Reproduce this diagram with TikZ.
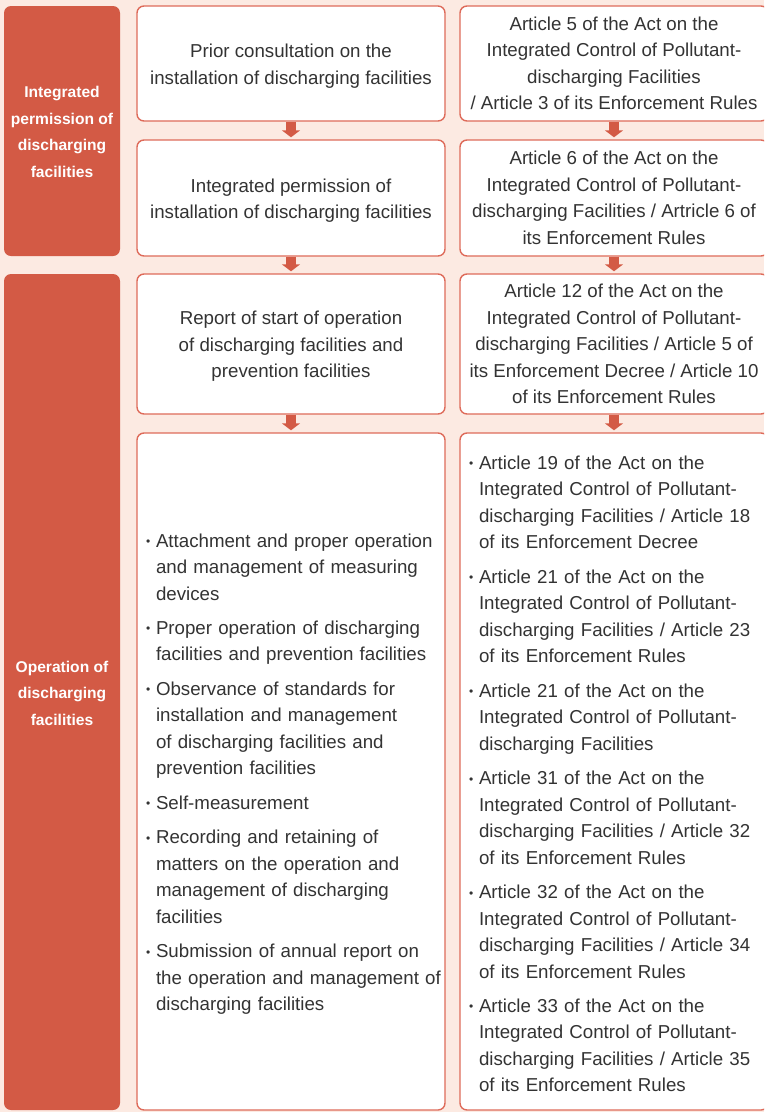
\documentclass[tikz,border=0pt]{standalone}
\usepackage{fontspec}
\setmainfont{Liberation Sans}
\usetikzlibrary{arrows.meta}
\definecolor{bgpink}{HTML}{FCEAE2}
\definecolor{boxred}{HTML}{D35A45}
\definecolor{edgered}{HTML}{DE6B5A}
\definecolor{txtgray}{HTML}{333333}
\newcommand{\bul}{\hspace*{8pt}\makebox[10pt][l]{\raisebox{1.5pt}{\fontsize{12}{12}\selectfont •}}}
\newcommand{\ind}{\hspace*{18pt}}
\newcommand{\gap}{\\[7.9pt]}
\tikzset{
  leftbox/.style={rectangle, rounded corners=7pt, fill=boxred, text=white,
    font=\bfseries\fontsize{15.6}{26.5}\selectfont, align=center, inner sep=0pt,
    minimum width=116pt},
  whitebox/.style={rectangle, rounded corners=7pt, draw=edgered, line width=1.4pt,
    fill=white, text=txtgray, font=\fontsize{18.7}{26.5}\selectfont, align=center,
    inner sep=0pt, minimum width=308pt},
  listbox/.style={whitebox, text width=306pt, align=left},
  flow/.style={draw=boxred, line width=10pt, -{Triangle[width=18pt,length=7pt]},
    shorten >=2pt}
}
\begin{document}
\begin{tikzpicture}[x=1pt,y=-1pt]
\useasboundingbox (0,0) rectangle (764,1112);
\fill[bgpink] (0,0) rectangle (764,1112);
\clip (0,0) rectangle (764,1112);

% left column
\node[leftbox, minimum height=250pt] (l1) at (62,131)
  {\rule{0pt}{13.5pt}Integrated\\permission of\\discharging\\facilities};
\node[leftbox, minimum height=836pt] (l2) at (62,692)
  {\rule{0pt}{13.5pt}Operation of\\discharging\\facilities};

% middle column
\node[whitebox, minimum height=115pt] (m1) at (291,63.5)
  {\strut Prior consultation on the\\installation of discharging facilities};
\node[whitebox, minimum height=116pt] (m2) at (291,198)
  {\strut Integrated permission of\\installation of discharging facilities};
\node[whitebox, minimum height=140pt] (m3) at (291,344)
  {\strut Report of start of operation\\of discharging facilities and\\prevention facilities};
\node[listbox, minimum height=677pt] (m4) at (291,771.5)
  {\strut\bul Attachment and proper operation\\
   \ind and management of measuring\\
   \ind devices\gap
   \bul Proper operation of discharging\\
   \ind facilities and prevention facilities\gap
   \bul Observance of standards for\\
   \ind installation and management\\
   \ind of discharging facilities and\\
   \ind prevention facilities\gap
   \bul Self-measurement\gap
   \bul Recording and retaining of\\
   \ind matters on the operation and\\
   \ind management of discharging\\
   \ind facilities\gap
   \bul Submission of annual report on\\
   \ind the operation and management of\\
   \ind discharging facilities};

% right column
\node[whitebox, minimum height=115pt] (r1) at (614,63.5)
  {Article 5 of the Act on the\\Integrated Control of Pollutant-\\discharging Facilities\\/ Article 3 of its Enforcement Rules};
\node[whitebox, minimum height=116pt] (r2) at (614,198)
  {Article 6 of the Act on the\\Integrated Control of Pollutant-\\discharging Facilities / Artricle 6 of\\its Enforcement Rules};
\node[whitebox, minimum height=140pt] (r3) at (614,344)
  {Article 12 of the Act on the\\Integrated Control of Pollutant-\\discharging Facilities / Article 5 of\\its Enforcement Decree / Article 10\\of its Enforcement Rules};
\node[listbox, minimum height=677pt] (r4) at (614,771.5)
  {\strut\bul Article 19 of the Act on the\\
   \ind Integrated Control of Pollutant-\\
   \ind discharging Facilities / Article 18\\
   \ind of its Enforcement Decree\gap
   \bul Article 21 of the Act on the\\
   \ind Integrated Control of Pollutant-\\
   \ind discharging Facilities / Article 23\\
   \ind of its Enforcement Rules\gap
   \bul Article 21 of the Act on the\\
   \ind Integrated Control of Pollutant-\\
   \ind discharging Facilities\gap
   \bul Article 31 of the Act on the\\
   \ind Integrated Control of Pollutant-\\
   \ind discharging Facilities / Article 32\\
   \ind of its Enforcement Rules\gap
   \bul Article 32 of the Act on the\\
   \ind Integrated Control of Pollutant-\\
   \ind discharging Facilities / Article 34\\
   \ind of its Enforcement Rules\gap
   \bul Article 33 of the Act on the\\
   \ind Integrated Control of Pollutant-\\
   \ind discharging Facilities / Article 35\\
   \ind of its Enforcement Rules};

% arrows
\draw[flow] (m1.south) -- (m2.north);
\draw[flow] (m2.south) -- (m3.north);
\draw[flow] (m3.south) -- (m4.north);
\draw[flow] (r1.south) -- (r2.north);
\draw[flow] (r2.south) -- (r3.north);
\draw[flow] (r3.south) -- (r4.north);
\end{tikzpicture}
\end{document}
